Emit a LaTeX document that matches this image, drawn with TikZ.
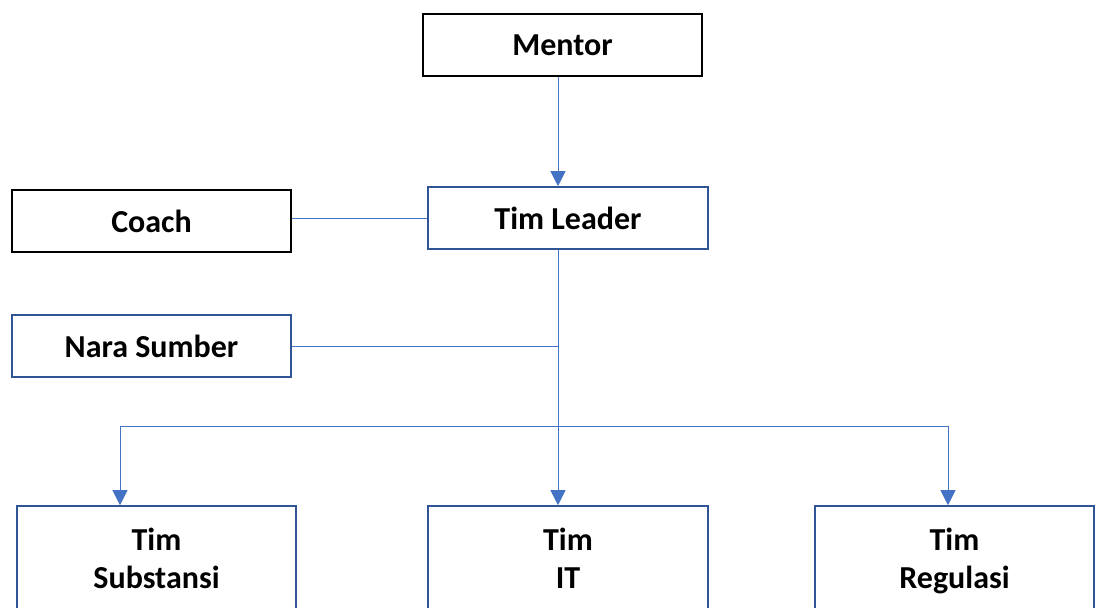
\documentclass[tikz,border=0pt]{standalone}
\usepackage{fontspec}
\setmainfont{Carlito}
\usetikzlibrary{arrows.meta}
\definecolor{boxblue}{HTML}{2F5597}
\definecolor{linkblue}{HTML}{4472C4}
\begin{document}
\begin{tikzpicture}[x=1pt,y=-1pt,
  boxbase/.style={rectangle,line width=1.6pt,fill=white,inner sep=0pt,
    font=\fontsize{32}{38}\selectfont\bfseries,align=center,text=black},
  blackbox/.style={boxbase,draw=black},
  bluebox/.style={boxbase,draw=boxblue},
  link/.style={draw=linkblue,line width=1pt},
  arrowlink/.style={link,-{Triangle[width=15pt,length=15pt]}}]
\useasboundingbox (0,0) rectangle (1096,608);
\clip (0,0) rectangle (1096,608);
\node[blackbox,minimum width=279pt,minimum height=62pt] (mentor) at (562.5,45) {Mentor};
\node[blackbox,minimum width=279pt,minimum height=62pt] (coach) at (151.5,221) {Coach};
\node[bluebox,minimum width=280pt,minimum height=62pt] (leader) at (568,218) {Tim Leader};
\node[bluebox,minimum width=279pt,minimum height=62pt] (nara) at (151.5,346) {Nara Sumber};
\node[bluebox,minimum width=279pt,minimum height=112pt] (subs) at (156.5,562) {\strut Tim\\\strut Substansi};
\node[bluebox,minimum width=280pt,minimum height=112pt] (it) at (568,562) {\strut Tim\\\strut IT};
\node[bluebox,minimum width=279pt,minimum height=112pt] (reg) at (954.5,562) {\strut Tim\\\strut Regulasi};
\coordinate (spine) at (558,0);
\coordinate (branch) at (558,426);
\coordinate (lefttap) at (120,0);
\coordinate (righttap) at (948,0);
\draw[arrowlink] (mentor.south -| spine) -- (leader.north -| spine);
\draw[link] (coach.east |- leader.west) -- (leader.west);
\draw[link] (leader.south -| spine) -- (branch);
\draw[link] (nara.east) -- (nara.east -| spine);
\draw[link] (branch -| lefttap) -- (branch -| righttap);
\draw[arrowlink] (branch -| lefttap) -- (subs.north -| lefttap);
\draw[arrowlink] (branch) -- (it.north -| spine);
\draw[arrowlink] (branch -| righttap) -- (reg.north -| righttap);
\end{tikzpicture}
\end{document}
